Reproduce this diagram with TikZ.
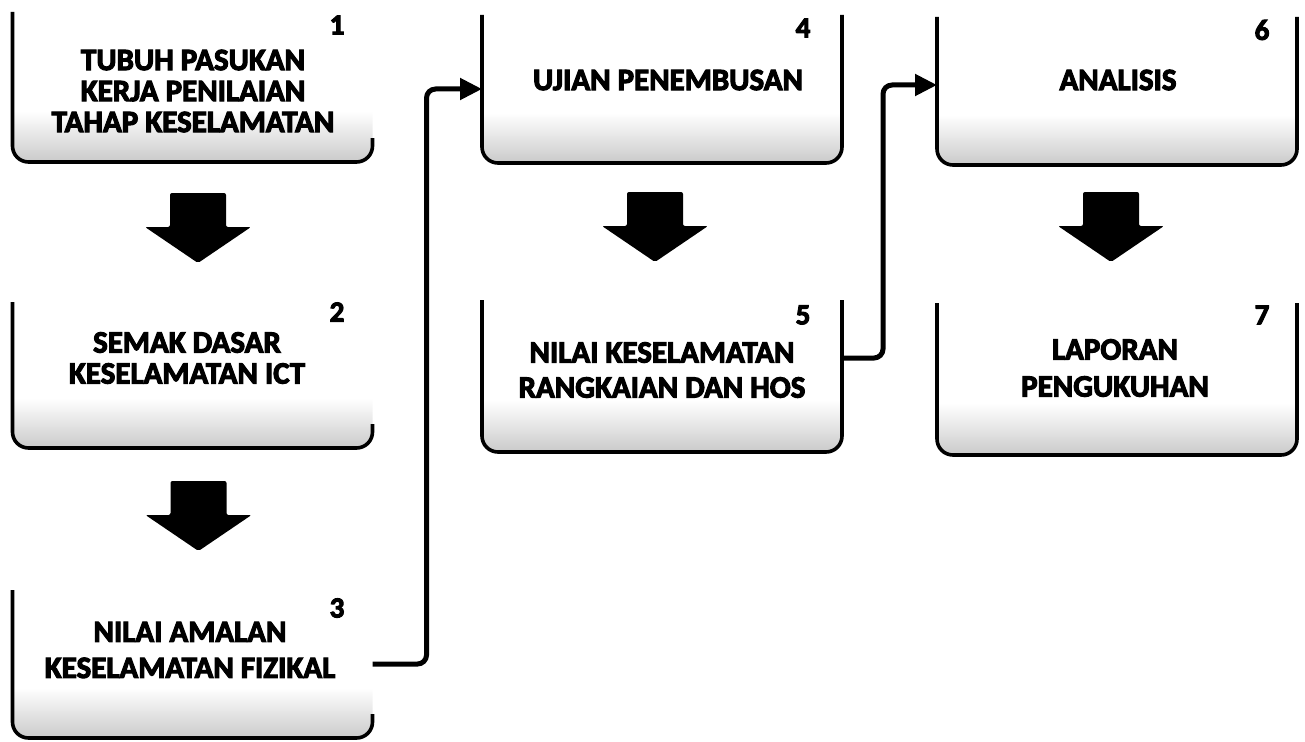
\documentclass[tikz,border=0pt]{standalone}
\usepackage{fontspec}
\setmainfont{Carlito}[BoldFeatures={FakeBold=3.5}]
\usetikzlibrary{arrows.meta,calc}
\pgfdeclareverticalshading{stagefill}{100bp}{color(0bp)=(black!65); color(10bp)=(black!50); color(24bp)=(black!22); color(42bp)=(white); color(100bp)=(white)}
\tikzset{
  stage/.style={minimum width=360pt, inner sep=0pt, outer sep=0pt},
  stagetext/.style={align=center, inner sep=0pt, font=\fontsize{31}{34}\selectfont\bfseries},
  stagenum/.style={inner sep=0pt, font=\fontsize{29}{30}\selectfont\bfseries},
  edge/.style={line width=3.6pt, rounded corners=16pt, line join=round},
  conn/.style={line width=5pt, rounded corners=9pt, -{Triangle[length=22pt,width=21pt]}},
  blockarrow/.pic={\fill[rounded corners=2pt] (-28,0) -- (28,0) -- (28,34) -- (53,34) -- (0,70) -- (-53,34) -- (-28,34) -- cycle;}
}
\newcommand\drawstage[2]{%
  \path[rounded corners=16pt, shading=stagefill]
    (#1.north west) -- (#1.south west) -- (#1.south east) -- (#1.north east) -- cycle;
  \draw[edge] (#1.north west) -- (#1.south west) -- (#1.south east) -- ([yshift=#2]#1.south east);
}
\begin{document}
\begin{tikzpicture}[x=1pt,y=-1pt]
\useasboundingbox (0,0) rectangle (1305,741);
% boxes
\node[stage, minimum height=150pt] (b1) at (192.5,87) {};
\node[stage, minimum height=146pt] (b2) at (192.5,375) {};
\node[stage, minimum height=148pt] (b3) at (192.5,664) {};
\node[stage, minimum height=148pt] (b4) at (662,89) {};
\node[stage, minimum height=152pt] (b5) at (662,376) {};
\node[stage, minimum height=148pt] (b6) at (1117,91) {};
\node[stage, minimum height=152pt] (b7) at (1117,379) {};
\drawstage{b1}{24pt}
\drawstage{b2}{24pt}
\drawstage{b3}{24pt}
\drawstage{b4}{148pt}
\drawstage{b5}{152pt}
\drawstage{b6}{148pt}
\drawstage{b7}{152pt}
% texts
\node[stagetext, font=\fontsize{31}{31}\selectfont\bfseries] (t1) at (193,91) {TUBUH PASUKAN\\KERJA PENILAIAN\\TAHAP KESELAMATAN};
\node[stagetext, font=\fontsize{31}{31}\selectfont\bfseries] (t2) at (187,358) {SEMAK DASAR\\KESELAMATAN ICT};
\node[stagetext, font=\fontsize{31}{36}\selectfont\bfseries] (t3) at (190,650) {NILAI AMALAN\\KESELAMATAN FIZIKAL};
\node[stagetext] (t4) at (668,80) {UJIAN PENEMBUSAN};
\node[stagetext, font=\fontsize{31}{35}\selectfont\bfseries] (t5) at (662,370) {NILAI KESELAMATAN\\RANGKAIAN DAN HOS};
\node[stagetext] (t6) at (1118,80) {ANALISIS};
\node[stagetext, font=\fontsize{31}{37}\selectfont\bfseries] (t7) at (1115,368) {LAPORAN\\PENGUKUHAN};
% numbers
\node[stagenum] (n1) at (337,25) {1};
\node[stagenum] (n2) at (337,312) {2};
\node[stagenum] (n3) at (337,608) {3};
\node[stagenum] (n4) at (803,28) {4};
\node[stagenum] (n5) at (803,315) {5};
\node[stagenum] (n6) at (1262,30) {6};
\node[stagenum] (n7) at (1262,315) {7};
% block arrows
\pic at (198,193) {blockarrow};
\pic at (198.5,481) {blockarrow};
\pic at (655,192) {blockarrow};
\pic at (1111,192) {blockarrow};
% connectors
\draw[conn] (b3.east) -- ++(54,0) |- (b4.west);
\draw[conn] ([yshift=18pt]b5.east) -- ++(41,0) |- ([yshift=6pt]b6.west);
\end{tikzpicture}
\end{document}
